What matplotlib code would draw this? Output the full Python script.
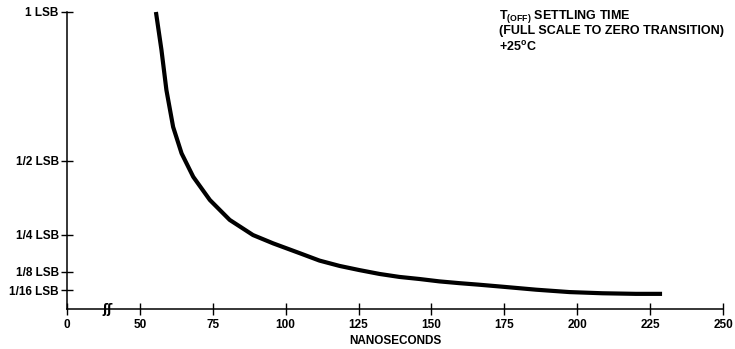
import matplotlib
matplotlib.use("Agg")
from matplotlib import pyplot as plt

# settling curve (ns, LSB)
ns = [55.5, 57.4, 59.1, 61.4, 64.3, 68.3, 74.0, 80.8, 88.8, 95.7,
      104.8, 111.6, 118.5, 125.3, 132.2, 139.0, 145.9, 152.7, 159.6, 166.1,
      174.4, 185.9, 197.3, 208.6, 220.1, 229.1]
lsb = [1.0, 0.872, 0.737, 0.613, 0.524, 0.445, 0.367, 0.300, 0.249, 0.221,
       0.188, 0.163, 0.145, 0.131, 0.118, 0.108, 0.101, 0.093, 0.087, 0.082,
       0.075, 0.065, 0.057, 0.053, 0.051, 0.051]

xtick_pos = [25, 50, 75, 100, 125, 150, 175, 200, 225, 250]
xtick_labels = ["0", "50", "75", "100", "125", "150", "175", "200", "225", "250"]
ytick_pos = [1, 0.5, 0.25, 0.125, 0.0625]
ytick_labels = ["1 LSB", "1/2 LSB", "1/4 LSB", "1/8 LSB", "1/16 LSB"]

plt.rcParams["font.family"] = ["Liberation Sans", "DejaVu Sans"]
plt.rcParams["font.weight"] = "bold"
plt.rcParams["mathtext.fontset"] = "custom"
plt.rcParams["mathtext.rm"] = "Liberation Sans:bold"
plt.rcParams["mathtext.it"] = "Liberation Sans:bold"

fig = plt.figure(figsize=(7.35, 3.49), dpi=100)
ax = fig.add_axes([67 / 735, 1 - 309 / 349, (723 - 67) / 735, (309 - 12) / 349])

ax.plot(ns, lsb, color="black", lw=3.0, solid_capstyle="butt",
        solid_joinstyle="round", clip_on=False)

ax.set_xlim(25, 250)
ax.set_ylim(0, 1)
ax.spines["top"].set_visible(False)
ax.spines["right"].set_visible(False)
for s in ("left", "bottom"):
    ax.spines[s].set_linewidth(1.1)

ax.set_xticks(xtick_pos)
ax.set_xticklabels(xtick_labels)
ax.set_yticks(ytick_pos)
ax.set_yticklabels(ytick_labels)
ax.tick_params(direction="inout", length=8, width=1.0, labelsize=8.5, pad=2)
ax.tick_params(axis="x", pad=3)

ax.set_xlabel("NANOSECONDS", fontsize=8.5, fontweight="bold", labelpad=3)

# axis break mark
ax.text(39, 0, "ʃʃ", fontsize=9, ha="center", va="center",
        family=["DejaVu Sans"], clip_on=False)

# annotation block
x0 = 499 / 735
fig.text(x0, 1 - 8 / 349, r"T$_{\mathrm{(OFF)}}$ SETTLING TIME", fontsize=9,
         fontweight="bold", va="top", ha="left")
fig.text(x0, 1 - 25 / 349, "(FULL SCALE TO ZERO TRANSITION)", fontsize=9,
         fontweight="bold", va="top", ha="left")
fig.text(x0, 1 - 40 / 349, r"+25$^{\mathrm{o}}$C", fontsize=9,
         fontweight="bold", va="top", ha="left")

fig.savefig("out.png", dpi=100)
